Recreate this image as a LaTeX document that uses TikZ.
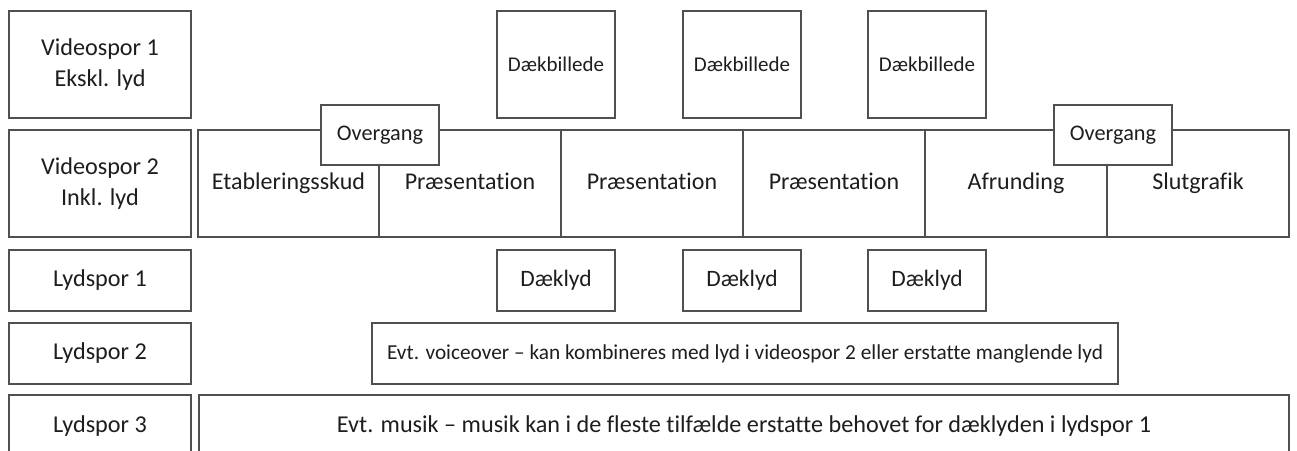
\documentclass[tikz,border=0pt]{standalone}
\usepackage{fontspec}
\setmainfont[Ligatures={NoCommon}]{Carlito}
\usetikzlibrary{positioning}
\definecolor{edge}{RGB}{80,80,80}
\definecolor{ink}{RGB}{30,30,30}

\tikzset{
    box/.style={draw=edge, line width=1.8pt, fill=white, inner sep=0pt, outer sep=0pt,
        text=ink, align=center, rectangle},
    label/.style={box, minimum width=182pt, font=\fontsize{24.2}{31}\selectfont},
    clip/.style={box, minimum height=107pt, text height=16pt, text depth=5pt,
        font=\fontsize{24}{28}\selectfont},
    cover/.style={box, minimum width=118pt, font=\fontsize{21}{24}\selectfont}
}

\begin{document}
\begin{tikzpicture}[x=1pt, y=-1pt]
    \useasboundingbox (0,0) rectangle (1297,450);

    % Track labels
    \node[label, minimum height=107pt] (vs1) at (100,64.5) {Videospor 1\\Ekskl. lyd};
    \node[label, minimum height=107pt] (vs2) at (100,183.5) {Videospor 2\\Inkl. lyd};
    \node[label, minimum height=61pt] (ls1) at (100,280.5) {Lydspor 1};
    \node[label, minimum height=61pt] (ls2) at (100,353.5) {Lydspor 2};
    \node[label, minimum height=62pt] (ls3) at (100,426) {Lydspor 3};

    % Video track 2
    \foreach \l/\r/\name/\txt in {198/379/etab/Etableringsskud, 379/561/praes1/Præsentation,
                                  561/743/praes2/Præsentation, 743/925/praes3/Præsentation,
                                  925/1107/afrund/Afrunding, 1107/1289/slut/Slutgrafik} {
        \node[clip, minimum width={(\r-\l)*1pt}] (\name) at ({(\l+\r)/2},183.5) {\txt};
    }

    % Transitions
    \node[cover, minimum height=60pt, font=\fontsize{22.3}{24}\selectfont] (over1) at (380,135) {Overgang};
    \node[cover, minimum height=60pt, font=\fontsize{22.3}{24}\selectfont] (over2) at (1113,135) {Overgang};

    % Cutaways and cover sound
    \foreach \x [count=\n] in {556,742,927} {
        \node[cover, minimum height=107pt] (billede\n) at (\x,64.5) {Dækbillede};
        \node[cover, minimum height=61pt, font=\fontsize{23.5}{24}\selectfont] (lyd\n) at (\x,280.5) {Dæklyd};
    }

    % Audio tracks 2 and 3
    \node[box, minimum width=746pt, minimum height=61pt, font=\fontsize{21.3}{24}\selectfont]
        (voice) at (745,353.5) {Evt. voiceover – kan kombineres med lyd i videospor 2 eller erstatte manglende lyd};
    \node[box, minimum width=1090pt, minimum height=62pt, font=\fontsize{24.2}{24}\selectfont]
        (musik) at (744,426) {Evt. musik – musik kan i de fleste tilfælde erstatte behovet for dæklyden i lydspor 1};
\end{tikzpicture}
\end{document}
